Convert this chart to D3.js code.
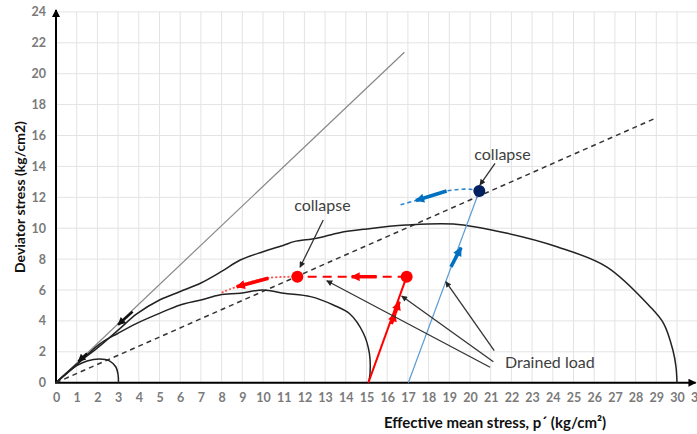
<!DOCTYPE html>
<html><head><meta charset="utf-8">
<script src="https://cdn.jsdelivr.net/npm/d3@7"></script>
<style>body{margin:0;background:#fff}svg{display:block}</style>
</head><body>
<svg id="chart" width="697" height="434"></svg>
<script>
// ---- data ----
const xTicks = d3.range(0, 32);
const yTicks = d3.range(0, 26, 2);
const smallCurve = [[0,0],[0.5,0.6],[1,1.1],[1.5,1.4],[2.1,1.53],[2.6,1.4],[2.9,1.0],[3.0,0.5],[3.02,0]];
const middleCurve = [[0,0],[1,1.15],[2.1,2.5],[3,3.2],[3.9,3.84],[5,4.49],[6,5.03],[7,5.35],[7.9,5.68],[8.9,5.79],[10,6.0],[11,5.79],[12.3,5.57],[13.4,5.03],[14.2,4.45],[14.85,3.2],[15.14,1.9],[15.17,0.6],[15.1,0]];
const largeCurve = [[0,0],[1,1.2],[2,2.25],[3,3.4],[3.9,4.45],[5,5.35],[6,5.9],[7,6.45],[8,7.2],[8.9,7.94],[10,8.48],[11,8.9],[11.5,9.13],[12.6,9.35],[13.7,9.71],[15,9.95],[16.9,10.2],[19.2,10.27],[21.8,9.67],[24.2,8.8],[26.6,7.5],[28.7,4.92],[29.35,3.84],[29.8,2.12],[29.95,1.04],[30,0]];
const grayLine = [[0,0],[16.83,21.39]];
const dashedLine = [[0,0],[28.94,17.11]];
const redLoad = [[15.09,0],[16.94,6.86]];
const redUndrained = [[16.94,6.86],[11.66,6.86]];
const redPost = [[11.66,6.86],[10.26,6.78],[9.0,6.35],[8.0,5.83]];
const redDots = [[16.94,6.86],[11.66,6.86]];
const blueLoad = [[17.02,0],[20.45,12.41]];
const bluePost = [[20.45,12.41],[20.0,12.52],[18.87,12.41],[17.4,11.8],[16.58,11.5]];
const blueDot = [[20.45,12.41]];
const redArrows = [[[16.2,3.8],[16.38,4.5]],[[16.38,4.5],[16.58,5.24]],[[15.49,6.86],[14.28,6.86]],[[10.26,6.76],[8.73,6.21]]];
const blueArrows = [[[19.08,7.5],[19.57,8.74]],[[18.87,12.41],[17.39,11.79]]];
const blackArrowsOnPath = [[[1.5,1.9],[1.08,1.37]],[[3.7,4.6],[3.0,3.75]]];
const labels = [
  {text:"collapse", x:12.87, y:11.37},
  {text:"collapse", x:21.57, y:14.69},
  {text:"Drained load", x:21.69, y:1.21, anchor:"start"}
];
const pointers = [
  [[12.91,10.53],[11.79,7.47]],
  [[21.21,14.2],[20.48,12.8]],
  [[21.17,2.07],[18.83,6.54]],
  [[21.13,1.36],[16.7,5.61]],
  [[20.97,1.0],[13.08,6.6]]
];
const xTitle = "Effective mean stress, p\u00B4  (kg/cm\u00B2)";
const yTitle = "Deviator stress (kg/cm2)";

// ---- drawing ----
const svg = d3.select("#chart");
const x = d3.scaleLinear().domain([0,31]).range([56, 697.7]);
const y = d3.scaleLinear().domain([0,24]).range([382.7, 11.9]);
const defs = svg.append("defs");
function marker(id, color, w, h){
  defs.append("marker").attr("id",id).attr("viewBox","0 0 10 10").attr("refX",9).attr("refY",5)
    .attr("markerWidth",w).attr("markerHeight",h).attr("orient","auto").attr("markerUnits","userSpaceOnUse")
    .append("path").attr("d","M0,0L10,5L0,10Z").attr("fill",color);
}
marker("ablack","#222",7,6);
marker("ared","#ff0000",11,9);
marker("ablue","#0070c0",11,9);
marker("athick","#111",10,8);
marker("axis","#000",9,8);

// grid
svg.append("g").selectAll("line").data(xTicks).join("line")
  .attr("x1",d=>x(d)).attr("x2",d=>x(d)).attr("y1",y(0)).attr("y2",y(24))
  .attr("stroke","#e3e3e3").attr("stroke-width",1);
svg.append("g").selectAll("line").data(yTicks).join("line")
  .attr("x1",x(0)).attr("x2",x(31)).attr("y1",d=>y(d)).attr("y2",d=>y(d))
  .attr("stroke","#e3e3e3").attr("stroke-width",1);

// axes
const xAxis = d3.axisBottom(x).tickValues(xTicks).tickSize(0).tickPadding(10);
const gx = svg.append("g").attr("transform",`translate(0,${y(0)})`).call(xAxis);
gx.select(".domain").remove();
gx.selectAll("text").attr("font-family","Lato, 'Open Sans', sans-serif").attr("font-weight","bold").attr("font-size",12.5).attr("fill","#7a7a7a");
const yAxis = d3.axisLeft(y).tickValues(yTicks).tickSize(0).tickPadding(10);
const gy = svg.append("g").attr("transform",`translate(${x(0)},0)`).call(yAxis);
gy.select(".domain").remove();
gy.selectAll("text").attr("font-family","Lato, 'Open Sans', sans-serif").attr("font-weight","bold").attr("font-size",12.5).attr("fill","#7a7a7a");

svg.append("line").attr("x1",x(0)).attr("x2",x(0)).attr("y1",y(0)).attr("y2",y(24)-2)
  .attr("stroke","#000").attr("stroke-width",2).attr("marker-end","url(#axis)");
svg.append("line").attr("x1",x(0)-1).attr("x2",x(30.9)).attr("y1",y(0)).attr("y2",y(0))
  .attr("stroke","#000").attr("stroke-width",2).attr("marker-end","url(#axis)");

const line = d3.line().x(d=>x(d[0])).y(d=>y(d[1]));
const smooth = d3.line().x(d=>x(d[0])).y(d=>y(d[1])).curve(d3.curveCatmullRom.alpha(0.5));

// reference lines
svg.append("path").attr("d",line(grayLine)).attr("fill","none").attr("stroke","#888").attr("stroke-width",1.2);
svg.append("path").attr("d",line(dashedLine)).attr("fill","none").attr("stroke","#333").attr("stroke-width",1.5).attr("stroke-dasharray","5,4");

// curves
[smallCurve, middleCurve, largeCurve].forEach(c=>{
  svg.append("path").attr("d",smooth(c)).attr("fill","none").attr("stroke","#222").attr("stroke-width",1.5);
});

// black arrows on gray line
blackArrowsOnPath.forEach(a=>{
  svg.append("path").attr("d",line(a)).attr("stroke","#111").attr("stroke-width",2.5).attr("fill","none").attr("marker-end","url(#athick)");
});

// blue paths
svg.append("path").attr("d",line(blueLoad)).attr("fill","none").attr("stroke","#5b9bd5").attr("stroke-width",1.2);
svg.append("path").attr("d",smooth(bluePost)).attr("fill","none").attr("stroke","#2e86d0").attr("stroke-width",1.6).attr("stroke-dasharray","4,3");
blueArrows.forEach(a=>{
  svg.append("path").attr("d",line(a)).attr("stroke","#0070c0").attr("stroke-width",3.5).attr("fill","none").attr("marker-end","url(#ablue)");
});

// red paths
svg.append("path").attr("d",line(redLoad)).attr("fill","none").attr("stroke","#ff0000").attr("stroke-width",2);
svg.append("path").attr("d",line(redUndrained)).attr("fill","none").attr("stroke","#ff0000").attr("stroke-width",2).attr("stroke-dasharray","9,6");
svg.append("path").attr("d",smooth(redPost)).attr("fill","none").attr("stroke","#ff5050").attr("stroke-width",1.8).attr("stroke-dasharray","2,2");
redArrows.forEach(a=>{
  svg.append("path").attr("d",line(a)).attr("stroke","#ff0000").attr("stroke-width",3.5).attr("fill","none").attr("marker-end","url(#ared)");
});

// dots
svg.append("g").selectAll("circle").data(redDots).join("circle")
  .attr("cx",d=>x(d[0])).attr("cy",d=>y(d[1])).attr("r",6).attr("fill","#ff0000");
svg.append("g").selectAll("circle").data(blueDot).join("circle")
  .attr("cx",d=>x(d[0])).attr("cy",d=>y(d[1])).attr("r",6).attr("fill","#002060");

// annotation pointers
pointers.forEach(p=>{
  svg.append("path").attr("d",line(p)).attr("stroke","#333").attr("stroke-width",1.3).attr("fill","none").attr("marker-end","url(#ablack)");
});
labels.forEach(l=>{
  svg.append("text").attr("x",x(l.x)).attr("y",y(l.y)).attr("text-anchor",l.anchor||"middle")
    .attr("dominant-baseline","middle").attr("font-family","Lato, 'Open Sans', sans-serif")
    .attr("font-size",16).attr("fill","#404040").text(l.text);
});

// titles
svg.append("text").attr("x",495).attr("y",428).attr("text-anchor","middle")
  .attr("font-family","Lato, 'Open Sans', sans-serif").attr("font-weight","bold").attr("font-size",15).attr("fill","#111").text(xTitle);
svg.append("text").attr("transform","translate(25,197) rotate(-90)").attr("text-anchor","middle")
  .attr("font-family","Lato, 'Open Sans', sans-serif").attr("font-weight","bold").attr("font-size",14).attr("fill","#111").text(yTitle);
</script>
</body></html>
